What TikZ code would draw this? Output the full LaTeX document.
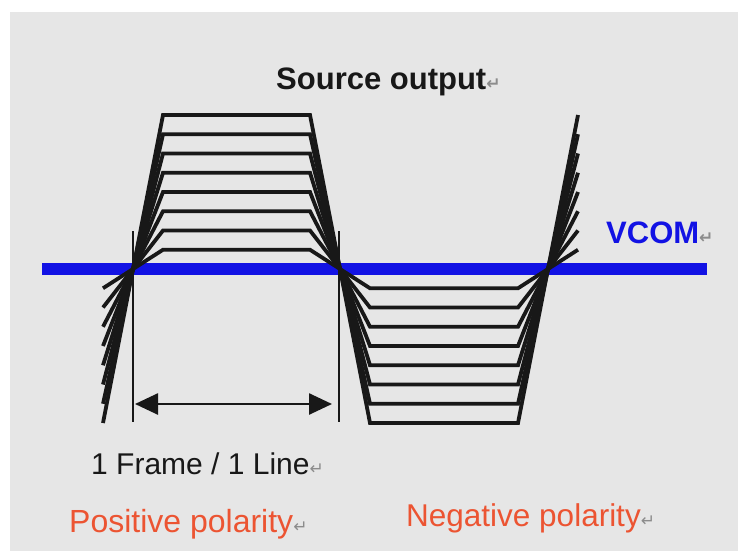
\documentclass[tikz,border=0pt]{standalone}
\usepackage{fontspec}
\setmainfont{Liberation Sans}
\newfontfamily\dejavu{DejaVu Sans}
\usetikzlibrary{arrows.meta}
\definecolor{panelgray}{RGB}{230,230,230}
\definecolor{vcomblue}{RGB}{18,18,228}
\definecolor{polred}{RGB}{236,84,50}
\definecolor{retgray}{RGB}{140,140,140}
\definecolor{tracek}{RGB}{24,24,24}
\newcommand{\retmark}{{\color{retgray}\fontsize{17}{17}\selectfont\dejavu ↵}}
\begin{document}
\begin{tikzpicture}[x=1pt,y=-1pt,
  trace/.style={line width=3.8pt, draw=tracek},
  marker/.style={line width=2pt, draw=tracek},
  span/.style={line width=2.6pt, draw=tracek, {Triangle[length=23pt,width=21pt]}-{Triangle[length=23pt,width=21pt]}},
  lbl/.style={inner sep=0pt, anchor=base west}]
\useasboundingbox (0,0) rectangle (738,551);
\fill[panelgray] (10,12) rectangle (738,551);
% VCOM line
\coordinate (vL) at (42,269);
\coordinate (vR) at (707,269);
\draw[vcomblue, line width=12pt] (vL) -- (vR);
% source output traces
\foreach \k in {1,...,8} {
  \pgfmathsetmacro{\a}{19.25*\k}
  \draw[trace] (103,{269+\a}) -- (163,{269-\a}) -- (310,{269-\a}) -- (370,{269+\a}) -- (518,{269+\a}) -- (578,{269-\a});
}
% period markers
\coordinate (m1t) at (133,231);
\coordinate (m1b) at (133,422);
\coordinate (m2t) at (339,231);
\coordinate (m2b) at (339,422);
\draw[marker] (m1t) -- (m1b);
\draw[marker] (m2t) -- (m2b);
\coordinate (aL) at (135,404);
\coordinate (aR) at (332,404);
\draw[span] (aL) -- (aR);
% labels
\node[lbl, text=tracek] (src) at (276,89) {\fontsize{31}{31}\selectfont\bfseries Source output\retmark};
\node[lbl, text=vcomblue] (vcom) at (606,243) {\fontsize{31}{31}\selectfont\bfseries VCOM\retmark};
\node[lbl, text=tracek] (frame) at (91,474) {\fontsize{30}{30}\selectfont 1 Frame / 1 Line\retmark};
\node[lbl, text=polred] (pos) at (69,532) {\fontsize{32}{32}\selectfont Positive polarity\retmark};
\node[lbl, text=polred] (neg) at (406,526) {\fontsize{31.5}{31.5}\selectfont Negative polarity\retmark};
\end{tikzpicture}
\end{document}
